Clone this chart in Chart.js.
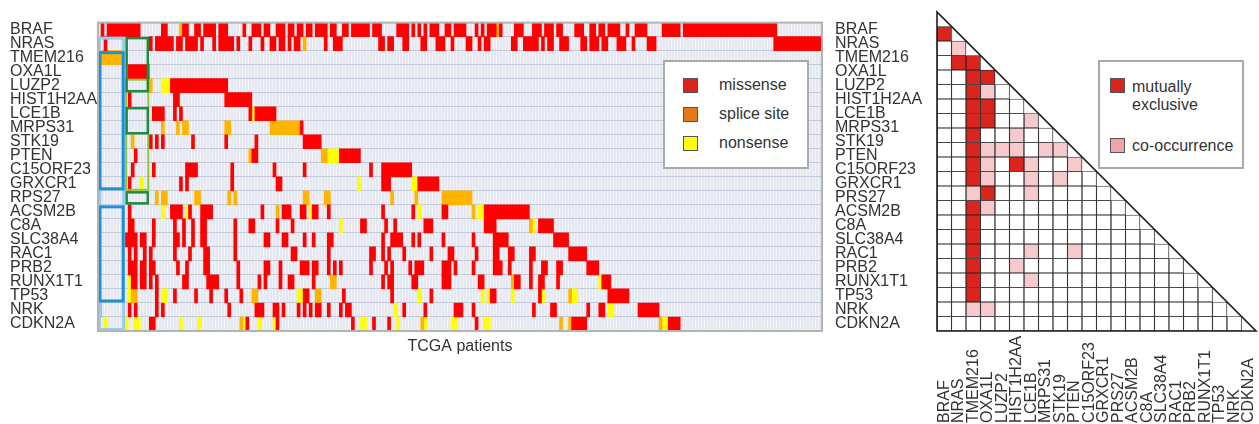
<!DOCTYPE html>
<html>
<head>
<meta charset="utf-8">
<script src="https://cdn.jsdelivr.net/npm/chart.js@4"></script>
<style>
body{margin:0;background:#fff;font-family:"Liberation Sans",Arial,sans-serif;color:#333}
#wrap{position:relative;width:1259px;height:424px;overflow:hidden}
#onco{position:absolute;left:0;top:0}
#tri{position:absolute;left:900px;top:0}
.box{position:absolute;background:#fff;border:2px solid #a9a9a9;box-sizing:border-box}
.sw{position:absolute;width:15px;height:15px;box-sizing:border-box;border:1px solid #555}
.tx{position:absolute;font-size:16px;line-height:18px;white-space:nowrap;color:#333}
</style>
</head>
<body>
<div id="wrap">
<canvas id="onco" width="930" height="424"></canvas>
<canvas id="tri" width="359" height="424"></canvas>

<div class="box" style="left:663px;top:60px;width:146px;height:109px">
<div class="sw" style="left:18px;top:16px;background:#d8261e"></div><div class="tx" style="left:54px;top:14px">missense</div>
<div class="sw" style="left:18px;top:45px;background:#e8761a"></div><div class="tx" style="left:54px;top:43px">splice site</div>
<div class="sw" style="left:18px;top:74px;background:#ffff00"></div><div class="tx" style="left:54px;top:72px">nonsense</div>
</div>

<div class="box" style="left:1098px;top:60px;width:146px;height:109px">
<div class="sw" style="left:10px;top:16px;background:#d8261e"></div><div class="tx" style="left:32px;top:16px">mutually</div>
<div class="tx" style="left:32px;top:34px">exclusive</div>
<div class="sw" style="left:10px;top:76px;background:#f2a3aa"></div><div class="tx" style="left:32px;top:75px">co-occurrence</div>
</div>
</div>

<script>
const FONT="'Liberation Sans', Arial, sans-serif"

let genes=["BRAF","NRAS","TMEM216","OXA1L","LUZP2","HIST1H2AA","LCE1B","MRPS31","STK19","PTEN","C15ORF23","GRXCR1","RPS27","ACSM2B","C8A","SLC38A4","RAC1","PRB2","RUNX1T1","TP53","NRK","CDKN2A"]
let rightLabels=["BRAF","NRAS","TMEM216","OXA1L","LUZP2","HIST1H2AA","LCE1B","MRPS31","STK19","PTEN","C15ORF23","GRXCR1","PRS27","ACSM2B","C8A","SLC38A4","RAC1","PRB2","RUNX1T1","TP53","NRK","CDKN2A"]
let nPatients=240

let mutationTypes=["missense","splice site","nonsense"]
let typeCodes=["m","s","n"]
let typeColors=["#ff0000","#ffb400","#ffff00"]

// patient columns per gene: "a-b" run, suffix s = splice site, n = nonsense, none = missense
let geneMutations=[
"1 3-13 21-22 27s 28-29 32-33 35-38 40-42 48 51-53 55-56 59-61 63-64 66-67 69-70 72-75 77-78 81-82 84-89 91-93 99-102 104 106 108 110-112 115-116 118-121 125 127 129-131 132s 133 138-140 144-146 148-150 152-153 158-160 163-164 166-167 169-172 175 178-181 187-192 194-224",
"2 17 19-24 26-27 29-32 34 38 40-44 46 50 54 57-58 60-61 63 65-66 68s 75 78-80 93-94 96-97 101-102 107-108 112-114 117 122-123 126 128-129 137-138 141-142 143-145 147 149-150 153-155 160-161 163-165 167-168 172-174 177 182-184 224-239",
"0-7s",
"10-16",
"17s 21-23n 24-42",
"10 25-26 42-50",
"18-21 25 27 50 51n 52-58",
"21s 26s 28-29s 42-43s 57-66s 67",
"11s 17 19 21 31 42 52 68-73",
"12 50s 51-52 74-75s 76-79n 80-86",
"11 18 29-32 44 58 68 90 94-103",
"10 14n 27 29 44 59-60 86n 94-96 104-105n 106-112",
"0s 19s 21-22s 32-33s 43s 45s 68-69s 75-76s 97s 105s 114-123s",
"10 21n 24-27 29n 30 34-37 54 59s 61-63 67-68 70n 71-72 76 94 104 106n 114-115 124s 126-127n 128-142",
"10-11 18 25 28 31 34-35 45 50-51 59 64 80n 87-88 95 98 108-110 128-131 143s 144n 146-150",
"9-12 14-15 18 25-26 28 31 34-35 45 55-56 61-62 68 71 76-77 94 97-100 104 106 114 124 131-135 151-155",
"10 12 15 17 25 30 35-36 45 64-65 76 90-91 94 96 101 110 116-117 125 131-132 136-137 143-144 156-161",
"10-12 14-15 17-18 26 29 35-36 46 55-56 60 67-69 71-72 76 78 80 90 95 97 103 105-107 114-116 118 124 131-133 136 143 147-148 152-153 162-165",
"10n 11-12 14-15 17 19 28-29 36-39 46 53 55 60 63-64 71 77-78s 94 96-97 104-105 114-116 126-127 137s 138-139 143 146-147 152 166n 167-169",
"10n 11-12s 19 21-22n 25 32 37 42 47 51-52s 66-67n 68-69 72-73s 81 97 106n 110 127n 129n 130-131 137n 146 147n 156s 157-158n 169-175",
"0 10 12 19 21 43 52-54 58-59 61 66 68 70 72-73 76 80 82-83 98n 101 108 118-120 124 144 150-151 162 166-167 169-170n 179-185",
"2n 9n 12-13n 17-18 27n 33n 47s 48n 49 53n 58n 59 84 87-88n 91 96 99n 107s 108n 117-118n 125 128-129n 153s 156s 157-161 186s 187-188n 189-192"
]

// outlined groups of patients: first col, last col, first gene row, last gene row, kind
let boxes=[
[0,8,1,21,"light"],
[0,8,2,11,"blue"],
[0,8,13,19,"blue"],
[9,16,4,11,"lime"],
[9,16,1,4,"green"],
[9,16,6,7,"green"],
[9,16,12,12,"green"]
]

// triangle: [row gene, column gene]
let exclusivePairs=[[1,0],[3,1],[3,2],[4,2],[4,3],[5,2],[6,2],[6,3],[7,2],[7,3],[8,2],[9,2],[10,2],[10,5],[11,2],[12,3],[13,2],[14,2],[15,2],[16,2],[17,2],[18,2],[19,2]]
let cooccurPairs=[[2,1],[5,3],[7,6],[8,5],[9,3],[9,4],[9,5],[9,7],[9,8],[10,3],[10,6],[10,9],[11,3],[11,6],[11,8],[12,2],[12,6],[13,3],[16,6],[16,9],[17,5],[18,6],[20,2],[20,3]]

let boxStyles={
light:{color:"#93cdef",width:3,inset:1.5},
blue:{color:"#1b8fd8",width:3,inset:2},
lime:{color:"#8cc63f",width:2,inset:1},
green:{color:"#1e8c3c",width:2.5,inset:1.5}
}

function runsFor(code){
let out=[]
genes.forEach((g,r)=>{
geneMutations[r].split(" ").forEach(tok=>{
let m=tok.match(/^(\d+)(?:-(\d+))?([msn]?)$/)
if(!m) return
let t=m[3]||"m"
if(t!=code) return
let a=Number(m[1])
let b=m[2]?Number(m[2]):a
out.push({y:g,x:[a,b+1]})
})
})
return out
}

let oncoFrame={
id:"oncoFrame",
beforeDraw(c){
let a=c.chartArea,ctx=c.ctx
ctx.save()
ctx.fillStyle="#e5e8f0"
ctx.fillRect(a.left,a.top,a.width,a.height)
ctx.restore()
},
afterDatasetsDraw(c){
let a=c.chartArea,ctx=c.ctx
let xs=c.scales.x,ys=c.scales.y
let h=ys.getPixelForValue(1)-ys.getPixelForValue(0)
ctx.save()
boxes.forEach(b=>{
let st=boxStyles[b[4]]
let x0=xs.getPixelForValue(b[0]),x1=xs.getPixelForValue(b[1]+1)
let y0=ys.getPixelForValue(b[2])-h/2,y1=ys.getPixelForValue(b[3])+h/2
ctx.strokeStyle=st.color
ctx.lineWidth=st.width
ctx.strokeRect(x0+st.inset,y0+st.inset,x1-x0-2*st.inset,y1-y0-2*st.inset)
})
ctx.strokeStyle="#b3b3b3"
ctx.lineWidth=2
ctx.strokeRect(a.left,a.top,a.width,a.height)
ctx.restore()
}
}

new Chart(document.getElementById("onco"),{
type:"bar",
data:{
labels:genes,
datasets:typeCodes.map((code,i)=>({
label:mutationTypes[i],
data:runsFor(code),
backgroundColor:typeColors[i],
borderWidth:0,
barPercentage:1,
categoryPercentage:1,
grouped:false
}))
},
options:{
indexAxis:"y",
responsive:false,
animation:false,
layout:{padding:{left:10,top:13,right:0,bottom:0}},
plugins:{legend:{display:false},tooltip:{enabled:false}},
scales:{
x:{
type:"linear",min:0,max:nPatients,
ticks:{display:false,stepSize:1,maxTicksLimit:1000},
grid:{color:"#f2f3f8",drawTicks:false},
border:{display:false},
title:{display:true,text:"TCGA patients",color:"#333",font:{size:16,family:FONT},padding:{top:0,bottom:68}},
afterFit:s=>{s.height=93}
},
y:{
type:"category",offset:true,
grid:{offset:true,color:"#c3cbdb",drawTicks:false},
border:{display:false},
ticks:{crossAlign:"far",autoSkip:false,padding:0,color:"#333",font:{size:16,family:FONT}},
afterFit:s=>{s.width=88}
},
y2:{
type:"category",labels:rightLabels,position:"right",offset:true,
grid:{display:false,drawTicks:false},
border:{display:false},
ticks:{autoSkip:false,padding:13,color:"#333",font:{size:16,family:FONT}},
afterFit:s=>{s.width=108}
}
}
},
plugins:[oncoFrame]
})

// triangle of pairwise relations
function pairStatus(k,j){
if(exclusivePairs.some(p=>p[0]==k&&p[1]==j)) return 1
if(cooccurPairs.some(p=>p[0]==k&&p[1]==j)) return 2
return 0
}
let triData=[[],[],[]]
genes.forEach((g,k)=>{
for(let j=0;j<k;j++){
triData[pairStatus(k,j)].push({y:g,x:[j,j+1]})
}
})
let triColors=["#ffffff","#d9251d","#f6c9cc"]

let triOutline={
id:"triOutline",
afterDraw(c){
let ctx=c.ctx,xs=c.scales.x,ys=c.scales.y
let h=ys.getPixelForValue(1)-ys.getPixelForValue(0)
let top=ys.getPixelForValue(0)-h/2
let bottom=ys.getPixelForValue(genes.length-1)+h/2
let left=xs.getPixelForValue(0),right=xs.getPixelForValue(genes.length)
ctx.save()
ctx.strokeStyle="#1e1e1e"
ctx.lineWidth=1.6
ctx.beginPath()
ctx.moveTo(left,top)
ctx.lineTo(left,bottom)
ctx.lineTo(right,bottom)
ctx.closePath()
ctx.stroke()
ctx.fillStyle="#333"
ctx.font="16px "+FONT
ctx.textAlign="left"
ctx.textBaseline="middle"
rightLabels.forEach((g,j)=>{
let x=xs.getPixelForValue(j+0.5)
ctx.save()
ctx.translate(x,c.height-1)
ctx.rotate(-Math.PI/2)
ctx.fillText(g,0,0)
ctx.restore()
})
ctx.restore()
}
}

new Chart(document.getElementById("tri"),{
type:"bar",
data:{
labels:genes,
datasets:triData.map((d,i)=>({
data:d,
backgroundColor:triColors[i],
borderColor:"#222222",
borderWidth:0.9,
borderSkipped:false,
barPercentage:1,
categoryPercentage:1,
grouped:false
}))
},
options:{
indexAxis:"y",
responsive:false,
animation:false,
layout:{padding:{left:37,right:3,top:12,bottom:93}},
plugins:{legend:{display:false},tooltip:{enabled:false}},
scales:{
x:{type:"linear",min:0,max:genes.length,display:false},
y:{type:"category",offset:true,display:false}
}
},
plugins:[triOutline]
})
</script>
</body>
</html>
